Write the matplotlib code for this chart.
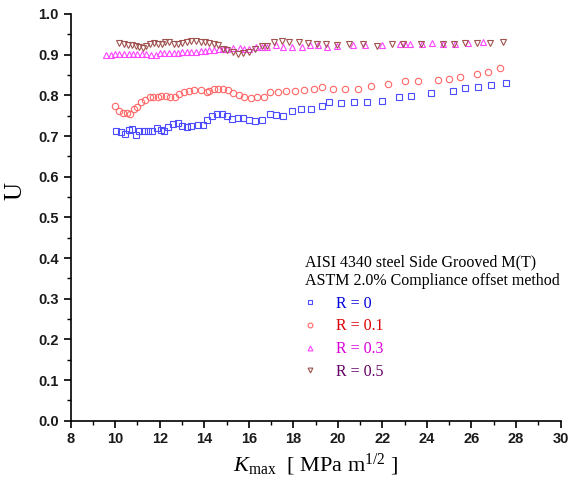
import matplotlib
matplotlib.use("Agg")
import matplotlib.pyplot as plt
from matplotlib.ticker import MultipleLocator, FormatStrFormatter

plt.rcParams["mathtext.fontset"] = "custom"
plt.rcParams["mathtext.rm"] = "Liberation Serif"
plt.rcParams["mathtext.it"] = "Liberation Serif:italic"
plt.rcParams["mathtext.bf"] = "Liberation Serif:bold"

# R = 0 (blue squares)
k_r0 = [10.03, 10.25, 10.45, 10.63, 10.77, 10.92, 11.08, 11.28, 11.48, 11.66,
        11.86, 12.04, 12.20, 12.37, 12.59, 12.80, 12.98, 13.22, 13.40, 13.73,
        13.94, 14.13, 14.33, 14.56, 14.78, 15.02, 15.26, 15.53, 15.72, 16.02,
        16.29, 16.60, 16.95, 17.23, 17.55, 17.95, 18.34, 18.78, 19.27, 19.61,
        20.15, 20.72, 21.30, 21.99, 22.74, 23.29, 24.18, 25.16, 25.69, 26.28,
        26.86, 27.53]
u_r0 = [0.713, 0.709, 0.705, 0.715, 0.717, 0.703, 0.713, 0.712, 0.712, 0.712,
        0.719, 0.715, 0.712, 0.723, 0.729, 0.732, 0.725, 0.722, 0.724, 0.726,
        0.726, 0.739, 0.750, 0.753, 0.753, 0.748, 0.743, 0.744, 0.744, 0.739,
        0.738, 0.740, 0.753, 0.752, 0.750, 0.761, 0.767, 0.767, 0.773, 0.784,
        0.782, 0.784, 0.784, 0.787, 0.795, 0.798, 0.806, 0.811, 0.818, 0.821,
        0.825, 0.830]

# R = 0.1 (red circles)
k_r1 = [9.98, 10.17, 10.33, 10.51, 10.68, 10.83, 10.99, 11.17, 11.35, 11.56,
        11.71, 11.92, 12.07, 12.29, 12.47, 12.68, 12.88, 13.09, 13.33, 13.55,
        13.86, 14.11, 14.22, 14.43, 14.60, 14.83, 15.05, 15.30, 15.57, 15.78,
        16.08, 16.37, 16.67, 16.95, 17.29, 17.65, 18.07, 18.48, 18.93, 19.28,
        19.79, 20.32, 20.90, 21.48, 22.26, 23.01, 23.61, 24.51, 25.00, 25.49,
        26.23, 26.74, 27.29]
u_r1 = [0.775, 0.761, 0.757, 0.757, 0.753, 0.766, 0.772, 0.784, 0.789, 0.795,
        0.797, 0.795, 0.798, 0.799, 0.795, 0.795, 0.804, 0.807, 0.811, 0.812,
        0.813, 0.809, 0.811, 0.816, 0.816, 0.816, 0.814, 0.806, 0.802, 0.797,
        0.794, 0.797, 0.797, 0.807, 0.807, 0.810, 0.811, 0.813, 0.816, 0.821,
        0.816, 0.816, 0.816, 0.822, 0.827, 0.835, 0.835, 0.838, 0.840, 0.846,
        0.852, 0.858, 0.866]

# R = 0.3 (magenta up-triangles)
k_r3 = [9.59, 9.79, 9.99, 10.19, 10.39, 10.60, 10.80, 11.00, 11.20, 11.40,
        11.61, 11.81, 12.01, 12.21, 12.41, 12.62, 12.82, 13.02, 13.22, 13.42,
        13.63, 13.83, 14.03, 14.23, 14.43, 14.64, 14.84, 15.04, 15.30, 15.60,
        15.78, 16.02, 16.32, 16.60, 16.83, 17.22, 17.55, 17.92, 18.37, 18.75,
        19.12, 19.50, 19.98, 20.66, 21.22, 21.98, 22.79, 23.01, 23.24, 23.76,
        24.21, 24.72, 25.27, 25.85, 26.53]
u_r3 = [0.900, 0.900, 0.901, 0.901, 0.902, 0.902, 0.902, 0.902, 0.901, 0.902,
        0.898, 0.898, 0.903, 0.904, 0.905, 0.904, 0.905, 0.906, 0.906, 0.907,
        0.907, 0.908, 0.910, 0.911, 0.912, 0.913, 0.914, 0.915, 0.916, 0.916,
        0.914, 0.914, 0.918, 0.920, 0.918, 0.923, 0.918, 0.918, 0.918, 0.923,
        0.924, 0.920, 0.921, 0.923, 0.923, 0.923, 0.925, 0.926, 0.926, 0.926,
        0.928, 0.927, 0.927, 0.929, 0.930]

# R = 0.5 (brown down-triangles)
k_r5 = [10.18, 10.38, 10.56, 10.74, 10.92, 11.08, 11.25, 11.39, 11.56, 11.74,
        11.91, 12.09, 12.25, 12.43, 12.63, 12.80, 13.00, 13.21, 13.42, 13.63,
        13.84, 14.04, 14.22, 14.43, 14.63, 14.84, 15.03, 15.27, 15.51, 15.74,
        15.99, 16.28, 16.57, 16.81, 17.13, 17.49, 17.82, 18.25, 18.67, 19.08,
        19.46, 19.96, 20.51, 21.13, 21.74, 22.43, 22.94, 23.75, 24.72, 25.20,
        25.71, 26.23, 26.83, 27.43]
u_r5 = [0.929, 0.926, 0.923, 0.923, 0.921, 0.920, 0.917, 0.921, 0.926, 0.929,
        0.927, 0.925, 0.930, 0.930, 0.927, 0.927, 0.929, 0.932, 0.934, 0.934,
        0.930, 0.931, 0.929, 0.927, 0.923, 0.915, 0.911, 0.907, 0.902, 0.903,
        0.907, 0.913, 0.921, 0.921, 0.930, 0.934, 0.932, 0.930, 0.928, 0.926,
        0.926, 0.923, 0.925, 0.925, 0.921, 0.926, 0.925, 0.925, 0.925, 0.927,
        0.928, 0.929, 0.929, 0.930]

labels = ["R = 0", "R = 0.1", "R = 0.3", "R = 0.5"]
marker_colors = ["#4d4dff", "#ff6666", "#ff44ff", "#a0524f"]
text_colors = ["#0000dd", "#dd0000", "#dd00dd", "#660066"]
markers = ["s", "o", "^", "v"]
legend_title = "AISI 4340 steel Side Grooved M(T)\nASTM 2.0% Compliance offset method"

fig = plt.figure(figsize=(5.72, 4.86), dpi=100)
ax = fig.add_axes([0.1236, 0.1344, 0.8564, 0.8368])

series = [(k_r0, u_r0), (k_r1, u_r1), (k_r3, u_r3), (k_r5, u_r5)]
for (k, u), lab, mc, mk in zip(series, labels, marker_colors, markers):
    ax.plot(k, u, linestyle="none", marker=mk, markersize=4.6,
            markerfacecolor="none", markeredgecolor=mc, markeredgewidth=0.8,
            label=lab)

ax.set_xlim(8, 30)
ax.set_ylim(0, 1.0)
ax.xaxis.set_major_locator(MultipleLocator(2))
ax.xaxis.set_minor_locator(MultipleLocator(1))
ax.yaxis.set_major_locator(MultipleLocator(0.1))
ax.yaxis.set_minor_locator(MultipleLocator(0.05))
ax.yaxis.set_major_formatter(FormatStrFormatter("%.1f"))

for s in ["top", "right"]:
    ax.spines[s].set_visible(False)
for s in ["left", "bottom"]:
    ax.spines[s].set_linewidth(1.2)
ax.tick_params(which="major", direction="out", length=5, width=1.2)
ax.tick_params(which="minor", direction="out", length=3, width=1.0)
for lbl in ax.get_xticklabels() + ax.get_yticklabels():
    lbl.set_family("Liberation Sans")
    lbl.set_fontweight("bold")
    lbl.set_fontsize(10.5)
    lbl.set_color("#1a1a1a")

ax.set_ylabel("U", family="Liberation Serif", fontsize=18)
ax.yaxis.set_label_coords(-0.09, 0.565)
ax.set_xlabel(r"$K_{\mathrm{max}}$  [ MPa m$^{\mathrm{1/2}}$ ]", family="Liberation Serif",
              fontsize=16, labelpad=4)

leg = ax.legend(title=legend_title, loc="upper left",
                bbox_to_anchor=(0.462, 0.428), frameon=False,
                prop={"family": "Liberation Serif", "size": 11.5},
                title_fontproperties={"family": "Liberation Serif", "size": 11.5},
                markerscale=0.75, handletextpad=1.35, labelspacing=0.42,
                borderpad=0.0, handlelength=0.6)
leg._legend_box.align = "left"
for t, c in zip(leg.get_texts(), text_colors):
    t.set_color(c)

fig.savefig("out.png", dpi=100)
